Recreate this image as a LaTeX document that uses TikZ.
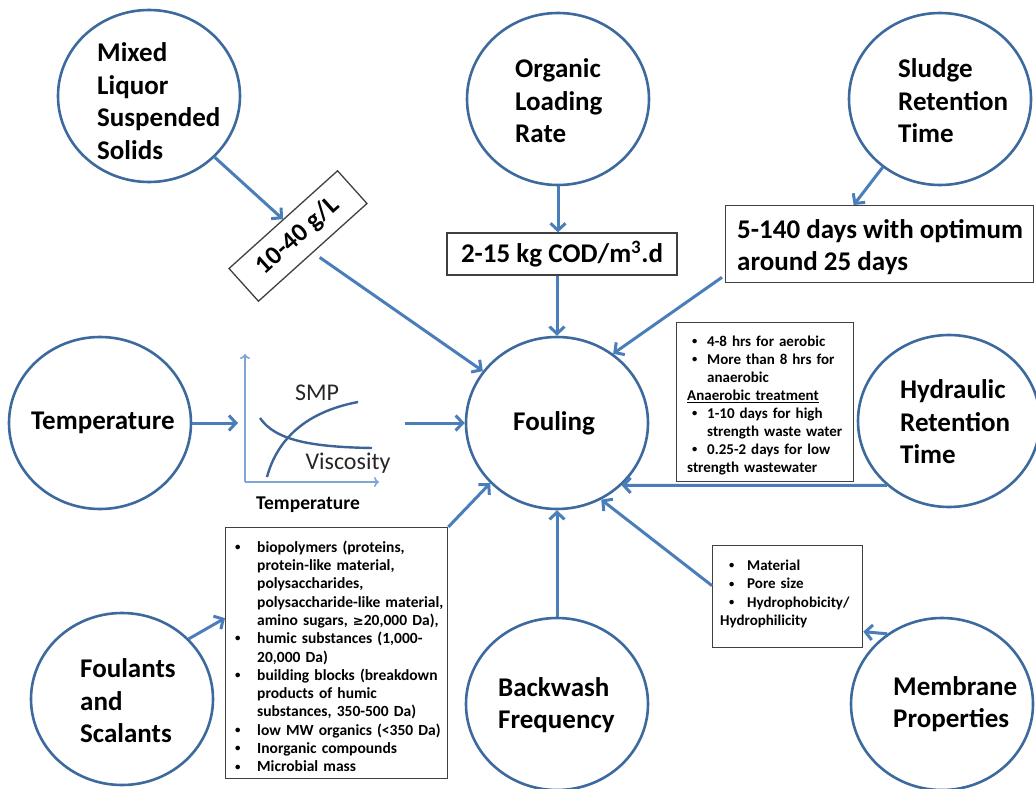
\documentclass[tikz,border=0pt]{standalone}
\usepackage{fontspec}
\setmainfont{Carlito}
\newfontfamily\dvsans{DejaVu Sans}
\usetikzlibrary{arrows.meta,shapes.geometric}
\definecolor{circc}{HTML}{3D6A9E}
\definecolor{arrc}{HTML}{4A7EBB}
\definecolor{axc}{HTML}{7FA6D6}
\definecolor{crvc}{HTML}{3C6496}
\definecolor{boxc}{HTML}{404040}
\newlength\bulind
\newlength\buloff
\newcommand{\bul}[1]{\par\noindent\hangindent=\bulind\hangafter=1\makebox[\bulind][l]{\hspace{\buloff}\raisebox{0.12em}{\scalebox{0.7}{\textbullet}}}#1}
\begin{document}
\begin{tikzpicture}[x=1pt,y=-1pt,
  bub/.style={ellipse, draw=circc, line width=2.6pt, minimum width=182pt, minimum height=172pt, inner sep=0pt},
  btxt/.style={anchor=west, align=left, inner sep=0pt, font=\fontsize{27}{32.5}\selectfont\bfseries},
  arr/.style={draw=arrc, line width=3pt, -{Straight Barb[length=7pt,width=15pt]}},
  rbox/.style={draw=boxc, line width=1.3pt, inner sep=0pt},
  small/.style={anchor=west, align=left, inner sep=0pt, font=\fontsize{15}{18}\selectfont\bfseries},
  axis/.style={draw=axc, line width=1.6pt, -{To[length=5pt,width=10pt]}},
  curve/.style={draw=crvc, line width=2.4pt},
  ]
\useasboundingbox (0,0) rectangle (1036,789);

% bubbles
\node[bub] (mlss) at (149,96) {};
\node[bub] (olr) at (558,99) {};
\node[bub] (srt) at (940,99) {};
\node[bub] (temp) at (100,423) {};
\node[bub] (foul) at (557,423) {};
\node[bub] (hrt) at (949,421) {};
\node[bub] (fou) at (122,699) {};
\node[bub] (back) at (557,704) {};
\node[bub] (mem) at (942,704) {};

% bubble texts
\node[btxt] (tmlss) at (97,101) {Mixed\\Liquor\\Suspended\\Solids};
\node[btxt] (tolr) at (515,101) {Organic\\Loading\\Rate};
\node[btxt] (tsrt) at (898,101) {Sludge\\Retention\\Time};
\node[btxt] (ttemp) at (31,423) {Temperature};
\node[btxt] (tfoul) at (513,423) {Fouling};
\node[btxt] (thrt) at (900,422) {Hydraulic\\Retention\\Time};
\node[btxt] (tfou) at (80,701) {Foulants\\and\\Scalants};
\node[btxt] (tback) at (498,705) {Backwash\\Frequency};
\node[btxt] (tmem) at (893,704) {Membrane\\Properties};

% value boxes
\node[rbox, rotate=42, minimum width=146pt, minimum height=44pt, font=\fontsize{26}{31}\selectfont\bfseries] (g) at (298,236) {10-40 g/L};
\node[rbox, minimum width=230pt, minimum height=42pt, font=\fontsize{27}{31}\selectfont\bfseries] (cod) at (562,254) {2-15 kg COD/m\textsuperscript{3}.d};
\node[rbox, minimum width=308pt, minimum height=77pt, anchor=north west] (days) at (725,205) {};
\node[btxt, font=\fontsize{27}{32}\selectfont\bfseries] (tdays) at (737,247) {5-140 days with optimum\\around 25 days};

% HRT notes box
\node[rbox, minimum width=177pt, minimum height=159pt, anchor=north west] (hbox) at (676,322) {};
\node[small, text width=165pt] (htxt) at (687,402) {\setlength\bulind{20pt}\setlength\buloff{5pt}%
\bul{4-8 hrs for aerobic}
\bul{More than 8 hrs for\newline anaerobic}
\par\noindent\underline{Anaerobic treatment}
\bul{1-10 days for high\newline strength waste water}
\bul{0.25-2 days for low\newline strength wastewater}};

% foulants box
\node[rbox, minimum width=222pt, minimum height=251pt, anchor=north west] (fbox) at (225,527) {};
\node[small, text width=214pt, font=\fontsize{15.5}{18.3}\selectfont\bfseries] (ftxt) at (233,653) {\setlength\bulind{24pt}\setlength\buloff{2pt}%
\bul{biopolymers (proteins,\newline protein-like material,\newline polysaccharides,\newline polysaccharide-like material,\newline amino sugars, {\dvsans\fontsize{13}{18}\selectfont ≥}20,000 Da),}
\bul{humic substances (1,000-\newline 20,000 Da)}
\bul{building blocks (breakdown\newline products of humic\newline substances, 350-500 Da)}
\bul{low MW organics (<350 Da)}
\bul{Inorganic compounds}
\bul{Microbial mass}};

% membrane box
\node[rbox, minimum width=150pt, minimum height=102pt, anchor=north west] (mbox) at (712,545) {};
\node[small, text width=135pt, font=\fontsize{15}{18.5}\selectfont\bfseries] (mtxt) at (720,590) {\setlength\bulind{27pt}\setlength\buloff{9pt}%
\bul{Material}
\bul{Pore size}
\bul{Hydrophobicity/\newline Hydrophilicity}};

% temperature graph
\coordinate (org) at (245,482);
\coordinate (ytop) at (245,354);
\coordinate (xend) at (379,482);
\draw[axis] (org) -- (ytop);
\draw[axis] (org) -- (xend);
\draw[curve] (267,477) .. controls (277,440) and (305,412) .. (358,402);
\draw[curve] (260,418) .. controls (275,440) and (310,447) .. (372,448);
\node[inner sep=0pt, font=\fontsize{24}{28}\selectfont, text=black!85] (smp) at (317,393) {SMP};
\node[inner sep=0pt, font=\fontsize{24}{28}\selectfont, text=black!85] (visc) at (348,463) {Viscosity};
\node[inner sep=0pt, font=\fontsize{19.5}{24}\selectfont\bfseries] (tlab) at (308,505) {Temperature};
\coordinate (gl) at (238,423);
\coordinate (gr) at (405,423);

% connectors
\draw[arr] (mlss.-43) -- (g.north);
\draw[arr, shorten <=8pt] (g.south) -- (foul.145);
\draw[arr] (olr.south) -- (olr.south |- cod.north);
\draw[arr] (cod.south -| foul.north) -- (foul.north);
\draw[arr] (srt.230) -- ([xshift=-26pt]days.north);
\draw[arr] ([xshift=-3pt,yshift=6pt]days.south west) -- (foul.51);
\draw[arr] (temp.east) -- (gl);
\draw[arr] (gr) -- (foul.west);
\draw[arr] (hrt.226.5) -- (foul.-44.5);
\draw[arr] (mem.128) -- ([yshift=-35pt]mbox.east);
\draw[arr] ([yshift=11pt]mbox.west) -- (foul.-60.7);
\draw[arr] (back.north) -- (foul.south);
\draw[arr] (fbox.north east) -- (foul.222);
\draw[arr] (fou.42.7) -- ([yshift=35pt]fbox.west);
\end{tikzpicture}
\end{document}
